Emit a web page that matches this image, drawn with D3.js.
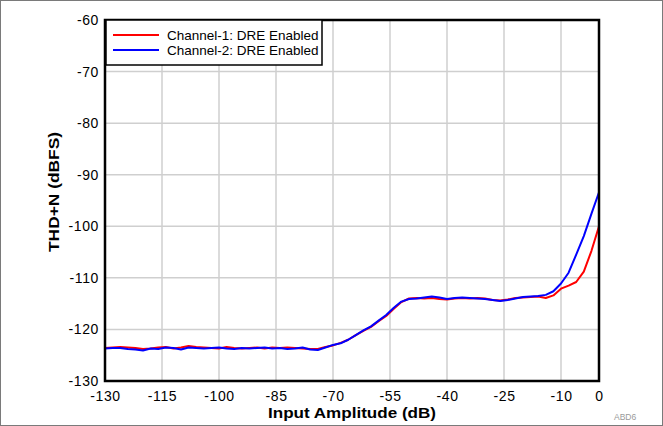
<html>
<head>
<meta charset="utf-8">
<script src="https://cdn.jsdelivr.net/npm/d3@7/dist/d3.min.js"></script>
<style>
  body { margin: 0; background: #fff; }
  text { font-family: "Liberation Sans", Arial, Helvetica, sans-serif; }
</style>
</head>
<body>
<div id="chart"></div>
<script>
// input amplitude (dB)
const amplitude = [
  -130, -128, -126, -124, -122, -120, -118, -116, -114, -112,
  -110, -108, -106, -104, -102, -100, -98, -96, -94, -92,
  -90, -88, -86, -84, -82, -80, -78, -76, -74, -72,
  -70, -68, -66, -64, -62, -60, -58, -56, -54, -52,
  -50, -48, -46, -44, -42, -40, -38, -36, -34, -32,
  -30, -28, -26, -24, -22, -20, -18, -16, -14, -12,
  -10, -8, -6, -4, -2, 0
];

const channel1 = [
  -123.6, -123.5, -123.4, -123.5, -123.6, -123.8, -123.7, -123.5, -123.4, -123.7,
  -123.5, -123.2, -123.4, -123.5, -123.6, -123.7, -123.4, -123.6, -123.7, -123.6,
  -123.5, -123.7, -123.5, -123.6, -123.5, -123.6, -123.7, -123.8, -123.8, -123.4,
  -123.1, -122.6, -122.0, -121.1, -120.3, -119.5, -118.4, -117.4, -116.0, -114.7,
  -114.0, -113.9, -114.0, -113.9, -114.1, -114.2, -114.0, -113.9, -114.0, -113.9,
  -114.0, -114.3, -114.4, -114.2, -113.9, -113.8, -113.7, -113.6, -113.9, -113.4,
  -112.1, -111.5, -110.8, -108.8, -104.8, -100.0
];

const channel2 = [
  -123.7, -123.6, -123.6, -123.8, -123.9, -124.1, -123.7, -123.8, -123.5, -123.6,
  -123.9, -123.5, -123.6, -123.7, -123.6, -123.5, -123.7, -123.8, -123.6, -123.7,
  -123.6, -123.5, -123.7, -123.6, -123.8, -123.7, -123.5, -123.9, -124.0, -123.5,
  -123.0, -122.7, -122.0, -121.1, -120.2, -119.4, -118.3, -117.2, -115.8, -114.6,
  -114.1, -114.0, -113.8, -113.6, -113.8, -114.1, -113.9, -113.8, -113.9, -114.0,
  -114.1, -114.3, -114.5, -114.3, -114.0, -113.7, -113.6, -113.5, -113.3, -112.6,
  -111.1, -109.0, -105.5, -101.9, -97.6, -93.4
];

const xTicks = [-130, -115, -100, -85, -70, -55, -40, -25, -10, 0];
const yTicks = [-60, -70, -80, -90, -100, -110, -120, -130];

const seriesNames = ["Channel-1: DRE Enabled", "Channel-2: DRE Enabled"];
const seriesColors = ["#ff0000", "#0000ff"];

const width = 663, height = 426;
const plotLeft = 105, plotRight = 599, plotTop = 20, plotBottom = 381;

const svg = d3.select("#chart").append("svg")
  .attr("width", width)
  .attr("height", height);

// cadre gris de l'image
svg.append("rect")
  .attr("x", 0.5).attr("y", 0.5)
  .attr("width", width - 1).attr("height", height - 1)
  .attr("fill", "#fff")
  .attr("stroke", "#7a7a7a");

const x = d3.scaleLinear().domain([-130, 0]).range([plotLeft, plotRight]);
const y = d3.scaleLinear().domain([-130, -60]).range([plotBottom, plotTop]);

// grille
svg.append("g")
  .selectAll("line")
  .data(xTicks.slice(1, -1))
  .enter().append("line")
  .attr("x1", d => x(d)).attr("x2", d => x(d))
  .attr("y1", plotTop).attr("y2", plotBottom)
  .attr("stroke", "#cfcfcf").attr("stroke-width", 1.5);

svg.append("g")
  .selectAll("line")
  .data(yTicks.slice(1, -1))
  .enter().append("line")
  .attr("x1", plotLeft).attr("x2", plotRight)
  .attr("y1", d => y(d)).attr("y2", d => y(d))
  .attr("stroke", "#cfcfcf").attr("stroke-width", 1.5);

// axes (trait d'union simple, pas le signe moins unicode)
const xAxis = svg.append("g")
  .attr("transform", "translate(0," + plotBottom + ")")
  .call(d3.axisBottom(x).tickValues(xTicks).tickFormat(d => String(d)).tickSize(0).tickPadding(10));
const yAxis = svg.append("g")
  .attr("transform", "translate(" + plotLeft + ",0)")
  .call(d3.axisLeft(y).tickValues(yTicks).tickFormat(d => String(d)).tickSize(0).tickPadding(6));

[xAxis, yAxis].forEach(a => {
  a.select(".domain").remove();
  a.selectAll("text")
    .style("font-family", "'Liberation Sans', Arial, sans-serif")
    .style("font-size", "14px")
    .style("letter-spacing", "0.6px")
    .attr("fill", "#000");
});

// courbes
const line = d3.line()
  .x((d, i) => x(amplitude[i]))
  .y(d => y(d));

[channel1, channel2].forEach((s, k) => {
  svg.append("path")
    .datum(s)
    .attr("d", line)
    .attr("fill", "none")
    .attr("stroke", seriesColors[k])
    .attr("stroke-width", 2)
    .attr("stroke-linejoin", "round");
});

// cadre du graphe
svg.append("rect")
  .attr("x", plotLeft).attr("y", plotTop)
  .attr("width", plotRight - plotLeft).attr("height", plotBottom - plotTop)
  .attr("fill", "none")
  .attr("stroke", "#000")
  .attr("stroke-width", 2.5);

// légende
const legend = svg.append("g");
legend.append("rect")
  .attr("x", 106).attr("y", 20)
  .attr("width", 216).attr("height", 45)
  .attr("fill", "#fff")
  .attr("stroke", "#000")
  .attr("stroke-width", 1.5);

seriesNames.forEach((name, k) => {
  const ly = 35 + k * 15;
  legend.append("line")
    .attr("x1", 113).attr("x2", 159)
    .attr("y1", ly).attr("y2", ly)
    .attr("stroke", seriesColors[k])
    .attr("stroke-width", 2);
  legend.append("text")
    .attr("x", 167).attr("y", ly)
    .attr("dy", "0.35em")
    .style("font-size", "13.5px")
    .text(name);
});

// titres des axes
svg.append("text")
  .attr("x", (plotLeft + plotRight) / 2).attr("y", 418)
  .attr("text-anchor", "middle")
  .attr("textLength", 168)
  .attr("lengthAdjust", "spacingAndGlyphs")
  .style("font-size", "14px")
  .style("font-weight", "bold")
  .text("Input Amplitude (dB)");

svg.append("text")
  .attr("transform", "translate(59," + 192 + ") rotate(-90)")
  .attr("text-anchor", "middle")
  .attr("textLength", 120)
  .attr("lengthAdjust", "spacingAndGlyphs")
  .style("font-size", "15px")
  .style("font-weight", "bold")
  .text("THD+N (dBFS)");

svg.append("text")
  .attr("x", 614).attr("y", 420)
  .attr("fill", "#9a9a9a")
  .style("font-size", "8.5px")
  .text("ABD6");
</script>
</body>
</html>
